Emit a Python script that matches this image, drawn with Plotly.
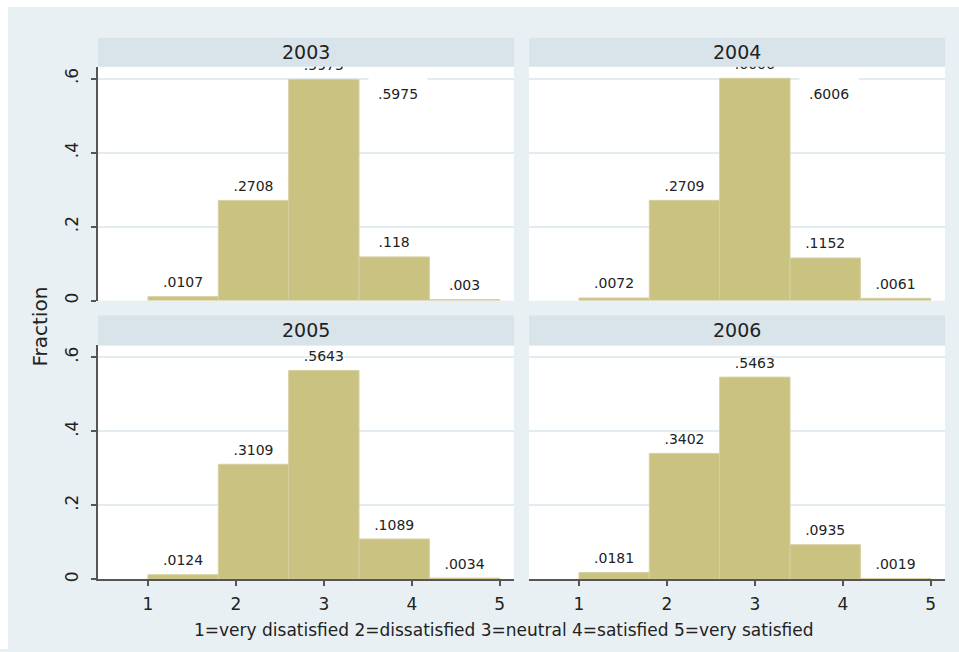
import plotly.graph_objects as go

# ---------------- data ----------------
years = ["2003", "2004", "2005", "2006"]
categories = [1, 2, 3, 4, 5]
frac_2003 = [0.0107, 0.2708, 0.5975, 0.118, 0.003]
frac_2004 = [0.0072, 0.2709, 0.6006, 0.1152, 0.0061]
frac_2005 = [0.0124, 0.3109, 0.5643, 0.1089, 0.0034]
frac_2006 = [0.0181, 0.3402, 0.5463, 0.0935, 0.0019]
y_tickvals = [0, 0.2, 0.4, 0.6]
y_ticktext = ["0", ".2", ".4", ".6"]
x_tickvals = [1, 2, 3, 4, 5]
x_ticktext = ["1", "2", "3", "4", "5"]
x_title = "1=very disatisfied 2=dissatisfied 3=neutral 4=satisfied 5=very satisfied"
y_title = "Fraction"
extra_label_years = ["2003", "2004"]
extra_label_text = [".5975", ".6006"]

series = [frac_2003, frac_2004, frac_2005, frac_2006]

# ---------------- styling ----------------
W, H = 959, 652
FONT = "DejaVu Sans"
BG = "#e9f0f3"
HEADER = "#d9e4ea"
BAR = "#c9c281"
BAR_LINE = "#d6d0a2"
GRID = "#e3ecf0"
AXIS = "#555555"
TXT = "#222222"


def px(xp):
    return xp / W


def py(yp):
    return 1 - yp / H


# histogram bins as Stata builds them: 5 bins from min to max
nbins = len(categories)
bw = (max(categories) - min(categories)) / nbins
centers = [min(categories) + bw * (i + 0.5) for i in range(nbins)]


def fmt(v):
    s = format(v, "g")
    return s[1:] if s.startswith("0.") else s


col_x = [(98, 514), (529, 945)]
row_y = [(67, 302), (347, 582)]
head_y = [(38, 67), (317, 347)]
XR = [0.432, 5.162]
YR = [0, 0.632]

fig = go.Figure()
layout = dict(
    width=W, height=H,
    margin=dict(l=0, r=0, t=0, b=0),
    paper_bgcolor=BG,
    plot_bgcolor="white",
    showlegend=False,
    font=dict(family=FONT, color=TXT),
    shapes=[], annotations=[],
)

for k, (yr, vals) in enumerate(zip(years, series)):
    r, c = divmod(k, 2)
    n = "" if k == 0 else str(k + 1)
    xa, ya = "x" + n, "y" + n
    fig.add_trace(go.Bar(
        x=centers, y=vals, width=bw,
        marker=dict(color=BAR, line=dict(color=BAR_LINE, width=1)),
        xaxis=xa, yaxis=ya, hoverinfo="skip",
    ))
    fig.add_trace(go.Scatter(
        x=centers, y=vals, mode="markers+text",
        text=[fmt(v) for v in vals], textposition="top center",
        textfont=dict(size=14, color=TXT, family=FONT),
        marker=dict(size=8, color="rgba(0,0,0,0)"),
        cliponaxis=True, xaxis=xa, yaxis=ya, hoverinfo="skip",
    ))
    x0, x1 = col_x[c]
    y0, y1 = row_y[r]
    bottom = (r == 1)
    left = (c == 0)
    layout["xaxis" + n] = dict(
        domain=[px(x0), px(x1)], range=XR, anchor=ya,
        showgrid=False, zeroline=False,
        showline=bottom, linecolor=AXIS, linewidth=1.5,
        ticks="outside" if bottom else "", ticklen=5, tickwidth=1.5, tickcolor=AXIS,
        tickvals=x_tickvals, ticktext=x_ticktext, showticklabels=bottom,
        tickfont=dict(size=17, color=TXT, family=FONT), ticklabelstandoff=4,
        fixedrange=True,
    )
    layout["yaxis" + n] = dict(
        domain=[py(y1), py(y0)], range=YR, anchor=xa,
        showgrid=True, gridcolor=GRID, gridwidth=1.5, zeroline=False,
        showline=left, linecolor=AXIS, linewidth=1.5,
        ticks="outside" if left else "", ticklen=5, tickwidth=1.5, tickcolor=AXIS,
        tickvals=y_tickvals, ticktext=y_ticktext, showticklabels=left,
        tickangle=-90, tickfont=dict(size=17, color=TXT, family=FONT),
        ticklabelstandoff=6,
        fixedrange=True,
    )
    hy0, hy1 = head_y[r]
    layout["shapes"].append(dict(
        type="rect", xref="paper", yref="paper",
        x0=px(x0), x1=px(x1), y0=py(hy1), y1=py(hy0),
        fillcolor=HEADER, line=dict(width=0), layer="below",
    ))
    layout["annotations"].append(dict(
        xref="paper", yref="paper", x=px((x0 + x1) / 2), y=py((hy0 + hy1) / 2),
        text=yr, showarrow=False, xanchor="center", yanchor="middle",
        font=dict(size=19, color=TXT, family=FONT),
    ))
    if yr in extra_label_years:
        lbl = extra_label_text[extra_label_years.index(yr)]
        layout["annotations"].append(dict(
            xref=xa, yref=ya, x=3.84, y=0.557, text=lbl, showarrow=False,
            xanchor="center", yanchor="middle", bgcolor="white", borderpad=9,
            font=dict(size=14, color=TXT, family=FONT),
        ))

# white outer border strips (left & top)
layout["shapes"].append(dict(type="rect", xref="paper", yref="paper",
                             x0=0, x1=px(8), y0=0, y1=1,
                             fillcolor="white", line=dict(width=0), layer="below"))
layout["shapes"].append(dict(type="rect", xref="paper", yref="paper",
                             x0=0, x1=1, y0=py(7), y1=1,
                             fillcolor="white", line=dict(width=0), layer="below"))

layout["annotations"].append(dict(
    xref="paper", yref="paper", x=px(40), y=py(328), text=y_title,
    textangle=-90, showarrow=False, xanchor="center", yanchor="middle",
    font=dict(size=20, color=TXT, family=FONT),
))
layout["annotations"].append(dict(
    xref="paper", yref="paper", x=px(503), y=py(633), text=x_title,
    showarrow=False, xanchor="center", yanchor="middle",
    font=dict(size=17, color=TXT, family=FONT),
))

fig.update_layout(**layout)
fig.write_html("out.html")
